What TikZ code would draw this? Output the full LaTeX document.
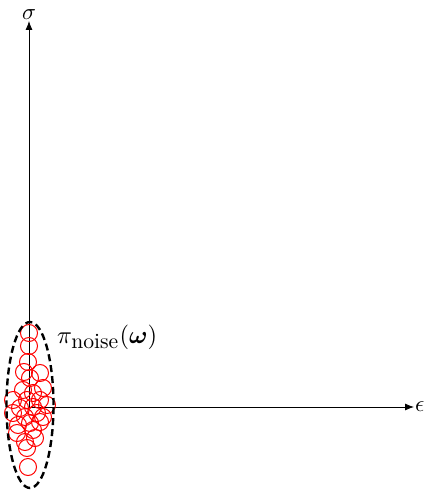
\documentclass[tikz,border=0pt]{standalone}
\usepackage{amsmath}
\usepackage{amssymb}
\usepackage{bm}
\usetikzlibrary{arrows.meta, positioning, shapes.geometric}
\tikzset{
  axis/.style={line width=0.8pt, -{Latex[length=9pt, width=7pt]}},
  sample/.style={draw=red, line width=1pt},
  region/.style={draw=black, line width=2.4pt, dash pattern=on 7pt off 4pt},
  lbl/.style={scale=2.3, inner sep=0.3pt}
}
\begin{document}
\begin{tikzpicture}[x=1pt, y=-1pt]
        \useasboundingbox (0,0) rectangle (426,495);

        % Ejes
        \coordinate (origin) at (29,407);
        \coordinate (xend) at (414,407);
        \coordinate (yend) at (29,21);
        \draw [axis] (origin) -- (xend);
        \draw [axis] (origin) -- (yend);
        \node (eps) [lbl, right=0pt of xend] {$\epsilon$};
        \node (sig) [lbl, above=0pt of yend] {$\sigma$};

        % Muestras
        \foreach \px/\py in {29/333, 29/346, 28/362, 24/372, 40/373, 30/378, 43/388,
                             23/390, 33/393, 13/400, 27/400, 40/400, 47/405, 20/408,
                             33/407, 37/413, 13/413, 43/417, 25/417, 30/423, 40/422,
                             18/425, 33/430, 17/433, 25/442, 35/438, 27/448, 28/467}
            \draw [sample] (\px,\py) circle (8.5);

        % Region de ruido
        \node (noise) [region, ellipse, minimum width=47pt, minimum height=166pt, inner sep=0pt] at (30,405) {};
        \node (pilbl) [lbl, scale=1.07, anchor=base west] at (56,343) {$\pi_{\mbox{\scalebox{0.88}{noise}}}(\bm{\omega})$};
\end{tikzpicture}
\end{document}
